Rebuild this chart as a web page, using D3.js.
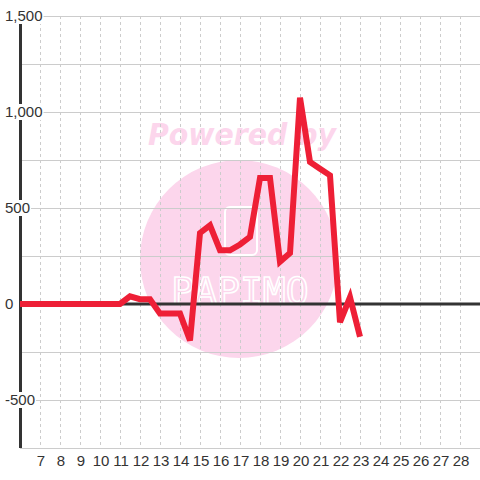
<!DOCTYPE html>
<html>
<head>
<meta charset="utf-8">
<script src="https://cdn.jsdelivr.net/npm/d3@7"></script>
<style>
  body { margin: 0; background: #fff; }
  svg { display: block; font-family: "Liberation Sans", Arial, sans-serif; }
</style>
</head>
<body>
<div id="chart"></div>
<script>
// data
const xs = [6, 6.5, 7, 7.5, 8, 8.5, 9, 9.5, 10, 10.5, 11, 11.5, 12, 12.5, 13, 13.5, 14, 14.5,
  15, 15.5, 16, 16.5, 17, 17.5, 18, 18.5, 19, 19.5, 20, 20.5, 21, 21.5, 22, 22.5, 23];
const values = [0, 0, 0, 0, 0, 0, 0, 0, 0, 0, 0, 40, 25, 25, -50, -50, -50, -190,
  370, 410, 280, 280, 310, 350, 656, 656, 220, 265, 1075, 740, 705, 670, -95, 35, -170];
const xTicks = d3.range(7, 29);
const yTicks = [1500, 1000, 500, 0, -500];
const yGrid = [1500, 1250, 1000, 750, 500, 250, -250, -500, -750];

const width = 480, height = 480;
const x = d3.scaleLinear().domain([6, 29]).range([20, 480]);
const y = d3.scaleLinear().domain([-750, 1500]).range([448, 16]);

const svg = d3.select('#chart').append('svg')
  .attr('width', width)
  .attr('height', height);

// watermark
const wm = svg.append('g');
wm.append('circle')
  .attr('cx', 239).attr('cy', 259).attr('r', 99)
  .attr('fill', '#fcd6ec');
wm.append('text')
  .attr('x', 148).attr('y', 145)
  .attr('font-family', 'DejaVu Sans, sans-serif')
  .attr('font-size', 30)
  .attr('font-weight', 'bold')
  .attr('font-style', 'italic')
  .attr('textLength', 188)
  .attr('lengthAdjust', 'spacingAndGlyphs')
  .attr('fill', '#fcd6ec')
  .text('Powered by');
wm.append('rect')
  .attr('x', 225).attr('y', 207).attr('width', 32).attr('height', 48).attr('rx', 5)
  .attr('fill', 'none').attr('stroke', '#fff').attr('stroke-width', 2);
wm.append('text')
  .attr('x', 240).attr('y', 304)
  .attr('text-anchor', 'middle')
  .attr('font-size', 38)
  .attr('font-family', 'DejaVu Sans Mono, monospace')
  .attr('fill', 'none')
  .attr('stroke', '#fff')
  .attr('stroke-width', 1.6)
  .text('PAPIMO');

// grid
svg.append('g').selectAll('line')
  .data(yGrid)
  .join('line')
  .attr('x1', 20).attr('x2', 480)
  .attr('y1', d => y(d) + 0.5).attr('y2', d => y(d) + 0.5)
  .attr('stroke', '#ccc');

svg.append('g').selectAll('line')
  .data(xTicks)
  .join('line')
  .attr('x1', d => x(d) + 0.5).attr('x2', d => x(d) + 0.5)
  .attr('y1', y(1500)).attr('y2', y(-750))
  .attr('stroke', '#ccc')
  .attr('stroke-dasharray', '3,3');

// axes
svg.append('line')
  .attr('x1', 20).attr('x2', 480)
  .attr('y1', y(0)).attr('y2', y(0))
  .attr('stroke', '#333').attr('stroke-width', 3);
svg.append('line')
  .attr('x1', 20.5).attr('x2', 20.5)
  .attr('y1', y(1500)).attr('y2', y(-750))
  .attr('stroke', '#333').attr('stroke-width', 3);

// y labels with white backing
const yLab = svg.append('g').selectAll('g')
  .data(yTicks)
  .join('g')
  .attr('transform', d => `translate(5,${y(d)})`);
yLab.append('text')
  .attr('dy', '0.36em')
  .attr('font-size', 15)
  .attr('fill', '#333')
  .text(d => d3.format(',')(d).replace('−', '-'));
yLab.each(function () {
  const g = d3.select(this);
  const b = g.select('text').node().getBBox();
  g.insert('rect', 'text')
    .attr('x', b.x - 1).attr('y', -8)
    .attr('width', b.width + 2).attr('height', 16)
    .attr('fill', '#fff');
});

// x labels
svg.append('g').selectAll('text')
  .data(xTicks)
  .join('text')
  .attr('x', d => x(d) + 1)
  .attr('y', 466)
  .attr('text-anchor', 'middle')
  .attr('font-size', 15)
  .attr('fill', '#333')
  .text(d => d);

// series
const line = d3.line()
  .x((d, i) => x(xs[i]))
  .y(d => y(d));
svg.append('path')
  .datum(values)
  .attr('d', line)
  .attr('fill', 'none')
  .attr('stroke', '#ee1f36')
  .attr('stroke-width', 6)
  .attr('stroke-linejoin', 'miter');
</script>
</body>
</html>
